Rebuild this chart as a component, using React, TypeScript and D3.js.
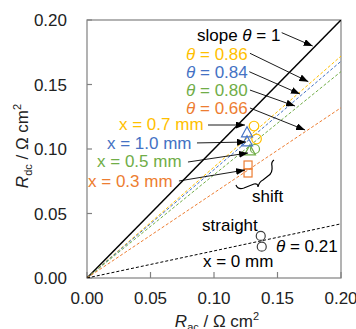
import React from "react";
import * as d3 from "d3";

const W = 356, H = 329;
const M = { left: 87, right: 341, top: 20, bottom: 278 };

const xTicks = [0, 0.05, 0.1, 0.15, 0.2];
const yTicks = [0, 0.05, 0.1, 0.15, 0.2];

// fitted lines (slope theta through origin)
const lineNames = ["slope1", "x07", "x10", "x05", "x03", "x00"];
const lineSlopes = [1, 0.86, 0.84, 0.8, 0.66, 0.21];
const lineColors = ["#000000", "#FFC000", "#4472C4", "#70AD47", "#ED7D31", "#000000"];
const lineDash = ["", "3,2", "3,2", "3,2", "3,2", "3,2"];

// data points
const yellowCircles = [[0.1315, 0.1178], [0.1335, 0.1078]];
const blueTriangles = [[0.126, 0.1124], [0.126, 0.1054]];
const greenTriangles = [[0.1283, 0.0984]];
const greenCircles = [[0.1323, 0.1]];
const orangeSquares = [[0.1268, 0.0876], [0.1268, 0.0814]];
const blackCircles = [[0.1368, 0.0326], [0.1376, 0.0243]];

// annotation texts [x, y(baseline), color, theta?, text]
const thetaLabels = [
  { x: 0.0866, y: 0.1841, c: "#000000", pre: "slope ", t: " = 1" },
  { x: 0.078, y: 0.169, c: "#FFC000", pre: "", t: " = 0.86" },
  { x: 0.078, y: 0.155, c: "#4472C4", pre: "", t: " = 0.84" },
  { x: 0.078, y: 0.1411, c: "#70AD47", pre: "", t: " = 0.80" },
  { x: 0.078, y: 0.1275, c: "#ED7D31", pre: "", t: " = 0.66" },
];
const xLabels = [
  { x: 0.0252, y: 0.1147, c: "#FFC000", t: "x = 0.7 mm" },
  { x: 0.0157, y: 0.1, c: "#4472C4", t: "x = 1.0 mm" },
  { x: 0.0079, y: 0.086, c: "#70AD47", t: "x = 0.5 mm" },
  { x: 0.0008, y: 0.0705, c: "#ED7D31", t: "x = 0.3 mm" },
];
const arrows = [
  [0.1533, 0.1902, 0.1777, 0.1798],
  [0.1283, 0.1742, 0.1743, 0.1522],
  [0.1278, 0.1599, 0.1677, 0.1426],
  [0.1283, 0.1457, 0.1638, 0.1333],
  [0.1283, 0.1318, 0.1717, 0.1147],
  [0.0953, 0.1186, 0.1244, 0.1186],
  [0.0866, 0.1047, 0.1252, 0.1054],
  [0.0795, 0.0899, 0.1268, 0.0969],
  [0.0724, 0.0752, 0.1244, 0.0837],
];
const braceAnchor = [0.1173, 0.0721];

export default function App() {
  const x = d3.scaleLinear().domain([0, 0.2]).range([M.left, M.right]);
  const y = d3.scaleLinear().domain([0, 0.2]).range([M.bottom, M.top]);
  const font = "'Liberation Sans', Arial, sans-serif";
  const axisColor = "#808080";
  const fs = 17;

  const tri = (cx: number, cy: number, s: number) =>
    `M${cx},${cy - s * 0.62} L${cx + s * 0.55},${cy + s * 0.38} L${cx - s * 0.55},${cy + s * 0.38} Z`;

  const bx = x(braceAnchor[0]), by = y(braceAnchor[1]);
  const brace = `M${bx},${by} Q${bx + 2},${by + 5} ${bx + 8},${by + 3} L${bx + 18},${by - 1} Q${bx + 22},${by - 2} ${bx + 22},${by + 2} Q${bx + 23},${by - 3} ${bx + 27},${by - 5} L${bx + 32},${by - 9} Q${bx + 37},${by - 12} ${bx + 36},${by - 19} Q${bx + 35},${by - 23} ${bx + 38},${by - 25}`;

  return (
    <svg width={W} height={H} style={{ position: "absolute", left: 0, top: 0, background: "#fff" }} fontFamily={font}>
      <defs>
        <marker id="ah" markerUnits="userSpaceOnUse" markerWidth={9} markerHeight={7} refX={9} refY={3.5} orient="auto">
          <path d="M0,0 L9,3.5 L0,7 Z" fill="#000" />
        </marker>
        <clipPath id="pc">
          <rect x={M.left} y={M.top} width={M.right - M.left} height={M.bottom - M.top} />
        </clipPath>
      </defs>
      {/* frame */}
      <rect x={M.left} y={M.top} width={M.right - M.left} height={M.bottom - M.top} fill="none" stroke={axisColor} strokeWidth={1.2} />
      {/* ticks */}
      {xTicks.map((t, i) => (
        <g key={"xt" + i}>
          <line x1={x(t)} x2={x(t)} y1={M.bottom} y2={M.bottom - 6} stroke={axisColor} strokeWidth={1.2} />
          <text x={x(t)} y={M.bottom + 26} textAnchor="middle" fontSize={fs} fill="#222">{t.toFixed(2)}</text>
        </g>
      ))}
      {yTicks.map((t, i) => (
        <g key={"yt" + i}>
          <line x1={M.left} x2={M.left + 5} y1={y(t)} y2={y(t)} stroke={axisColor} strokeWidth={1.2} />
          <text x={M.left - 20} y={y(t) + 6} textAnchor="end" fontSize={fs} fill="#222">{t.toFixed(2)}</text>
        </g>
      ))}
      {/* lines */}
      <g clipPath="url(#pc)">
        {lineSlopes.map((s, i) => (
          <line key={lineNames[i]} x1={x(0)} y1={y(0)} x2={x(0.2)} y2={y(0.2 * s)} stroke={lineColors[i]}
            strokeWidth={i === 0 ? 1.5 : 1} strokeDasharray={lineDash[i] || undefined} />
        ))}
      </g>
      {/* markers */}
      {orangeSquares.map((p, i) => (
        <rect key={"os" + i} x={x(p[0]) - 4} y={y(p[1]) - 4} width={8} height={8} fill="none" stroke="#ED7D31" strokeWidth={1.2} />
      ))}
      {greenTriangles.map((p, i) => (
        <path key={"gt" + i} d={tri(x(p[0]), y(p[1]), 10)} fill="none" stroke="#70AD47" strokeWidth={1.2} />
      ))}
      {greenCircles.map((p, i) => (
        <circle key={"gc" + i} cx={x(p[0])} cy={y(p[1])} r={4.5} fill="none" stroke="#70AD47" strokeWidth={1.2} />
      ))}
      {yellowCircles.map((p, i) => (
        <circle key={"yc" + i} cx={x(p[0])} cy={y(p[1])} r={4.8} fill="none" stroke="#FFC000" strokeWidth={1.2} />
      ))}
      {blueTriangles.map((p, i) => (
        <path key={"bt" + i} d={tri(x(p[0]), y(p[1]), 10)} fill="none" stroke="#4472C4" strokeWidth={1.2} />
      ))}
      {blackCircles.map((p, i) => (
        <circle key={"kc" + i} cx={x(p[0])} cy={y(p[1])} r={4.5} fill="none" stroke="#404040" strokeWidth={1.2} />
      ))}
      {/* arrows */}
      {arrows.map((a, i) => (
        <line key={"ar" + i} x1={x(a[0])} y1={y(a[1])} x2={x(a[2])} y2={y(a[3])} stroke="#000" strokeWidth={0.9} markerEnd="url(#ah)" />
      ))}
      {/* brace */}
      <path d={brace} fill="none" stroke="#000" strokeWidth={1.2} />
      {/* labels */}
      {thetaLabels.map((l, i) => (
        <text key={"tl" + i} x={x(l.x)} y={y(l.y)} fontSize={fs} fill={l.c}>
          {l.pre}<tspan fontStyle="italic">θ</tspan>{l.t}
        </text>
      ))}
      {xLabels.map((l, i) => (
        <text key={"xl" + i} x={x(l.x)} y={y(l.y)} fontSize={fs} fill={l.c}>{l.t}</text>
      ))}
      <text x={x(0.1299)} y={y(0.0589)} fontSize={fs} fill="#000">shift</text>
      <text x={x(0.0906)} y={y(0.0364)} fontSize={fs} fill="#000">straight</text>
      <text x={x(0.1488)} y={y(0.0202)} fontSize={fs} fill="#000"><tspan fontStyle="italic">θ</tspan> = 0.21</text>
      <text x={x(0.0913)} y={y(0.0085)} fontSize={fs} fill="#000">x = 0 mm</text>
      {/* axis titles */}
      <text x={217} y={327} textAnchor="middle" fontSize={fs} fill="#222">
        <tspan fontStyle="italic">R</tspan><tspan fontSize={11} dy={4}>ac</tspan><tspan dy={-4}> / Ω cm</tspan><tspan fontSize={11} dy={-7}>2</tspan>
      </text>
      <text transform={`translate(28,146) rotate(-90)`} textAnchor="middle" fontSize={fs} fill="#222">
        <tspan fontStyle="italic">R</tspan><tspan fontSize={11} dy={4}>dc</tspan><tspan dy={-4}> / Ω cm</tspan><tspan fontSize={11} dy={-7}>2</tspan>
      </text>
    </svg>
  );
}
